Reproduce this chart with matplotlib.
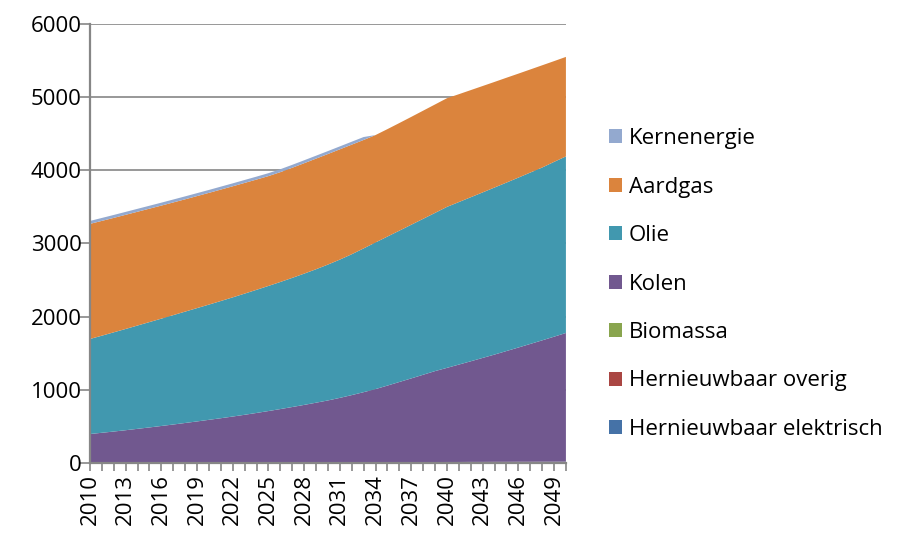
import numpy as np
import matplotlib
matplotlib.use('Agg')
import matplotlib.pyplot as plt
from matplotlib.patches import Patch

plt.rcParams['font.family'] = ['Open Sans', 'DejaVu Sans']

years = list(range(2010, 2051))

# values
hern_elektrisch = [0, 0, 0, 0, 0, 0, 0, 0, 1, 1,
                   2, 2, 3, 3, 4, 4, 5, 5, 6, 6,
                   7, 7, 8, 8, 9, 9, 10, 10, 11, 11,
                   12, 12, 13, 13, 14, 14, 15, 15, 16, 16, 17]
hern_overig = [1] * 41
biomassa = [1] * 41
kolen = [394, 411, 428, 446, 465, 484, 504, 524, 544, 565,
         586, 608, 630, 654, 678, 704, 730, 758, 786, 816,
         846, 881, 918, 958, 999, 1047, 1095, 1144, 1193, 1243,
         1286, 1331, 1375, 1421, 1466, 1514, 1561, 1610, 1658, 1708, 1758]
olie = [1299, 1327, 1356, 1384, 1412, 1440, 1467, 1495, 1522, 1549,
        1575, 1602, 1629, 1656, 1683, 1710, 1737, 1765, 1794, 1824,
        1857, 1890, 1925, 1965, 2004, 2037, 2068, 2100, 2131, 2162,
        2200, 2221, 2242, 2262, 2283, 2302, 2322, 2342, 2362, 2389, 2413]
aardgas = [1573, 1569, 1564, 1560, 1555, 1550, 1545, 1540, 1535, 1531,
           1527, 1523, 1518, 1513, 1507, 1501, 1501, 1505, 1509, 1512,
           1511, 1507, 1498, 1482, 1468, 1468, 1471, 1474, 1478, 1482,
           1485, 1474, 1464, 1454, 1443, 1433, 1421, 1409, 1397, 1377, 1360]
kernenergie = [40] * 24 + [0] * 17

labels = ['Hernieuwbaar elektrisch', 'Hernieuwbaar overig', 'Biomassa',
          'Kolen', 'Olie', 'Aardgas', 'Kernenergie']
colors = ['#4572A7', '#AA4643', '#89A54E', '#71588F', '#4198AF', '#DB843D', '#93A9CF']

grey = '#868686'

fig = plt.figure(figsize=(8.97, 5.40), dpi=100)
ax = fig.add_axes([0.1003, 0.1426, 0.5306, 0.813])

ax.stackplot(years, hern_elektrisch, hern_overig, biomassa, kolen, olie,
             aardgas, kernenergie, colors=colors, linewidth=0)

ax.set_xlim(2010, 2050)
ax.set_ylim(0, 6000)
ax.set_yticks(range(0, 6001, 1000))
ax.set_xticks(years)
ax.set_xticklabels([str(y) if (y - 2010) % 3 == 0 else '' for y in years],
                   rotation=90)
ax.set_axisbelow(True)
ax.grid(axis='y', color=grey, linewidth=1.2)

for s in ['top', 'right']:
    ax.spines[s].set_visible(False)
for s in ['left', 'bottom']:
    ax.spines[s].set_color(grey)
    ax.spines[s].set_linewidth(1.6)

ax.tick_params(axis='y', colors=grey, labelcolor='black', length=7,
               width=1.2, labelsize=16, pad=-1)
ax.tick_params(axis='x', colors=grey, labelcolor='black', length=6,
               width=1.2, labelsize=16, pad=2)

handles = [Patch(facecolor=c, edgecolor='none') for c in colors][::-1]
leg = fig.legend(handles, labels[::-1], loc='upper left',
                 bbox_to_anchor=(0.669, 0.779), frameon=False,
                 fontsize=16, handlelength=0.6, handleheight=0.6,
                 handletextpad=0.3, labelspacing=1.235, borderaxespad=0)

fig.savefig('out.png', dpi=100)
